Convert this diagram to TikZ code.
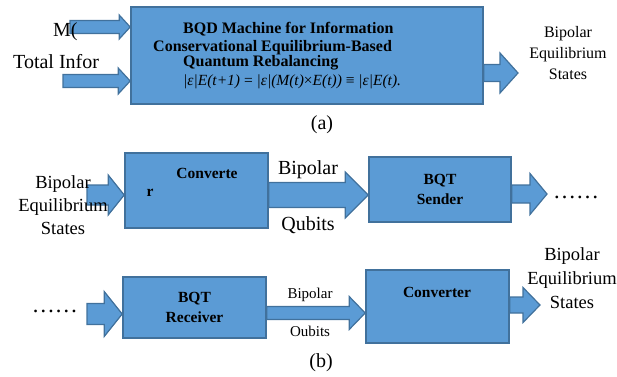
\documentclass[tikz,border=0pt]{standalone}
\usepackage{fontspec}
\setmainfont{Liberation Serif}
\usepackage{tikz}
\usetikzlibrary{calc,positioning}
\definecolor{boxblue}{HTML}{5B9BD5}
\definecolor{boxline}{HTML}{41719C}
% block arrow: from, to, shaft half width, head half width, head length
\newcommand{\fat}[5]{%
\draw[fat] let \p1=(#1), \p2=(#2) in
(\x1,\y1+#3pt) -- (\x2-#5pt,\y1+#3pt) -- (\x2-#5pt,\y1+#4pt) -- (\x2,\y1)
-- (\x2-#5pt,\y1-#4pt) -- (\x2-#5pt,\y1-#3pt) -- (\x1,\y1-#3pt) -- cycle;}
\begin{document}
\begin{tikzpicture}[x=1pt,y=-1pt,
blk/.style={rectangle,draw=boxline,fill=boxblue,line width=1.6pt,inner sep=0pt},
fat/.style={draw=boxline,fill=boxblue,line width=1.2pt,line join=miter},
big/.style={font=\fontsize{20}{23}\selectfont,inner sep=0pt},
mid/.style={font=\fontsize{18.5}{23}\selectfont,inner sep=0pt,align=center},
sml/.style={font=\fontsize{15.5}{21}\selectfont,inner sep=0pt,align=center},
hd/.style={font=\fontsize{16}{20}\selectfont\bfseries,inner sep=0pt,anchor=base west},
lb/.style={font=\fontsize{15.5}{20}\selectfont\bfseries,inner sep=0pt,align=center}]
\useasboundingbox (0,0) rectangle (617,376);
% (a)
\node[blk,minimum width=352pt,minimum height=97pt] (BQD) at (307,55.5) {};
\node[hd] (L1) at (183,33) {BQD Machine for Information};
\node[hd] (L2) at (153,51) {Conservational Equilibrium-Based};
\node[hd] (L3) at (183,66.5) {Quantum Rebalancing};
\node[inner sep=0pt,anchor=base west,font=\fontsize{15.5}{17}\selectfont] (L4) at (183,85.5)
{\textit{|ε|E(t+1)} = \textit{|ε|(M(t)}×\textit{E(t))} ≡ \textit{|ε|E(t).}};
\coordinate (a1) at (70,27);
\coordinate (a2) at (63,81);
\coordinate (a3) at (518,73);
\fat{a1}{BQD.west |- a1}{6.5}{12}{11}
\fat{a2}{BQD.west |- a2}{6.5}{13}{12}
\fat{BQD.east |- a3}{a3}{8.5}{20}{18}
\node[big,anchor=base west] (M) at (53,36) {M(};
\node[big,anchor=base west] (T) at (13,68.5) {Total Infor};
\node[sml,font=\fontsize{16}{21}\selectfont] (E1) at (568,53) {Bipolar\\Equilibrium\\States};
\node[big] (A) at (322,125) {(a)};
% (b) top row
\node[blk,minimum width=143pt,minimum height=75pt] (C1) at (196.5,190.5) {};
\node[lb] (C1a) at (207,173) {Converte};
\node[lb] (C1b) at (150,193) {r};
\node[blk,minimum width=142pt,minimum height=65pt,lb] (S) at (440,189.5) {BQT\\Sender};
\coordinate (b1) at (87,195);
\coordinate (b3) at (547,194);
\fat{b1}{C1.west |- b1}{10}{20}{16}
\fat{C1.east |- b1}{S.west |- b1}{12.5}{23}{23}
\fat{S.east |- b3}{b3}{9}{20.5}{17}
\node[mid] (E2) at (63,205) {Bipolar\\Equilibrium\\States};
\node[big] (B1) at (308,170) {Bipolar};
\node[big] (Q1) at (308,225) {Qubits};
\node[big,anchor=west,font=\fontsize{23}{23}\selectfont] (D1) at (553,197) {……};
% (b) bottom row
\node[blk,minimum width=143pt,minimum height=61pt,lb] (R) at (194.5,307.5) {BQT\\Receiver};
\node[blk,minimum width=143pt,minimum height=73pt] (C2) at (437.5,306.5) {};
\node[lb] (C2a) at (437,292) {Converter};
\coordinate (c1) at (87,314);
\coordinate (c2) at (266,313);
\coordinate (c3) at (540,305);
\fat{c1}{R.west |- c1}{10.5}{22.5}{18}
\fat{R.east |- c2}{C2.west |- c2}{6.5}{16.5}{16}
\fat{C2.east |- c3}{c3}{8}{17.5}{17}
\node[big,anchor=east,font=\fontsize{23}{23}\selectfont] (D2) at (78,311) {……};
\node[sml,font=\fontsize{15}{18}\selectfont] (B2) at (310,295) {Bipolar};
\node[sml,font=\fontsize{15}{18}\selectfont] (Q2) at (310,331) {Oubits};
\node[mid,font=\fontsize{18.5}{24}\selectfont] (E3) at (572,278) {Bipolar\\Equilibrium\\States};
\node[big] (B) at (321,363) {(b)};
\end{tikzpicture}
\end{document}
